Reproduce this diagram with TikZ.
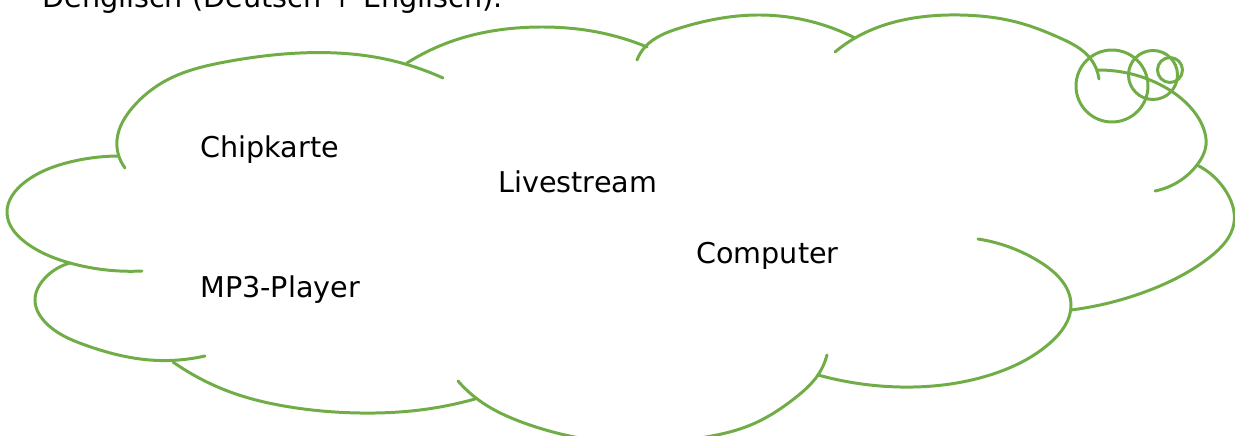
\documentclass[tikz,border=0pt]{standalone}
\usepackage{fontspec}
\setmainfont{DejaVu Sans}
\usetikzlibrary{hobby}
\definecolor{cloudgreen}{RGB}{112,173,71}
\begin{document}
\begin{tikzpicture}[x=0.02cm,y=-0.02cm,use Hobby shortcut,
  lobe/.style={draw=cloudgreen,line width=1.7pt,line cap=round},
  word/.style={anchor=base west,inner sep=0pt,font=\fontsize{16.3}{19}\selectfont}]
\useasboundingbox (0,0) rectangle (1235,436);

\node[word] (title) at (42,8) {Denglisch (Deutsch + Englisch).};

% cloud lobes, clockwise from the top left
\draw[lobe] (125,168) .. (117,140) .. (133,107) .. (167,80) .. (225,62) .. (300,53) .. (380,58) .. (443,78);
\draw[lobe] (407,63) .. (447,43) .. (540,27) .. (597,32) .. (647,47);
\draw[lobe] (637,60) .. (645,47) .. (680,28) .. (757,15) .. (813,22) .. (855,38);
\draw[lobe] (835,52) .. (855,38) .. (903,20) .. (960,15) .. (1020,23) .. (1060,38) .. (1090,58) .. (1099,79);
\draw[lobe] (1098,70) .. (1150,80) .. (1183,100) .. (1203,127) .. (1206,145) .. (1197,165) .. (1155,191);
\draw[lobe] (1197,165) .. (1227,193) .. (1234,223) .. (1210,257) .. (1150,290) .. (1071,310);
\draw[lobe] (978,239) .. (1040,262) .. (1071,305) .. (1050,343) .. (990,375) .. (900,387) .. (818,375);
\draw[lobe] (827,355) .. (818,375) .. (795,398) .. (753,424) .. (700,438) .. (640,443) .. (580,438) .. (527,424) .. (480,401) .. (458,381);
\draw[lobe] (173,362) .. (233,393) .. (290,407) .. (360,413) .. (420,410) .. (475,399);
\draw[lobe] (205,356) .. (150,360) .. (85,345) .. (45,322) .. (35,300) .. (45,278) .. (70,263);
\draw[lobe] (118,156) .. (70,162) .. (25,182) .. (7,213) .. (25,242) .. (70,263) .. (142,271);

% thought bubbles
\draw[lobe] (1112,86) circle[radius=0.72cm];
\draw[lobe] (1153,75) circle[radius=0.49cm];
\draw[lobe] (1170,70) circle[radius=0.25cm];

\node[word] (chip) at (200,157) {Chipkarte};
\node[word] (live) at (498,192) {Livestream};
\node[word] (comp) at (696,263) {Computer};
\node[word] (mp3) at (200,297) {MP3-Player};
\end{tikzpicture}
\end{document}
